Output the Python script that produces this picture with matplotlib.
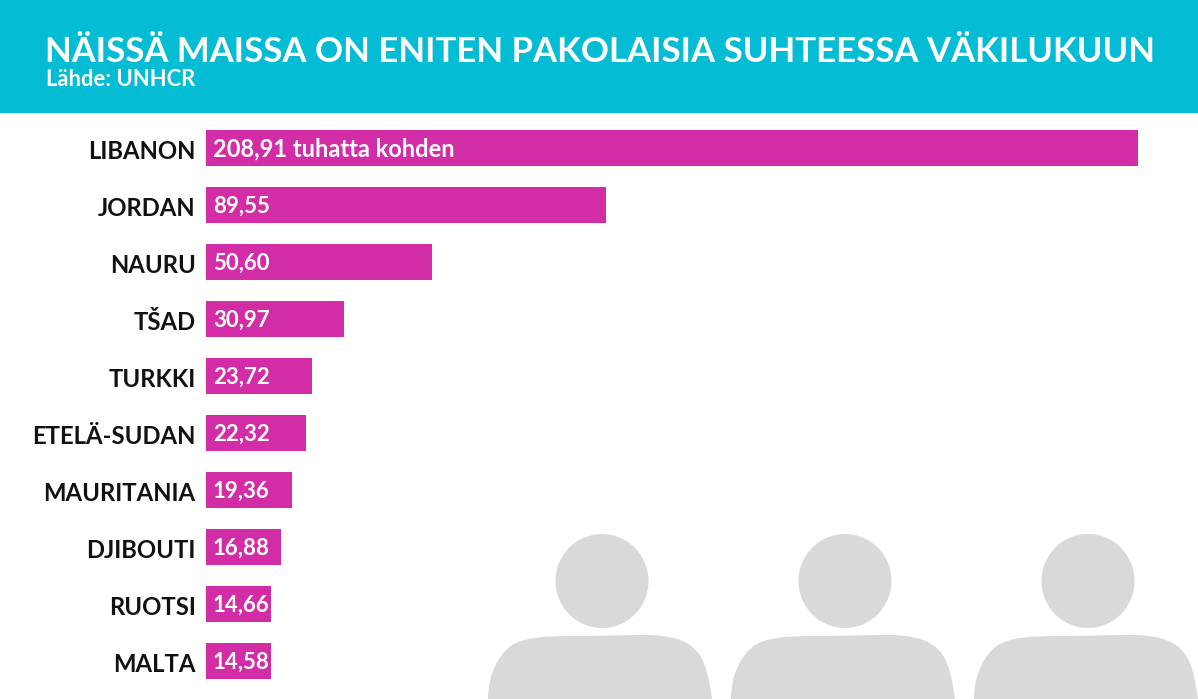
import matplotlib.pyplot as plt
from matplotlib.patches import Ellipse, PathPatch, Rectangle
from matplotlib.path import Path
from matplotlib.transforms import ScaledTranslation

W, H = 1198, 699

maat = ['LIBANON', 'JORDAN', 'NAURU', 'TŠAD', 'TURKKI', 'ETELÄ-SUDAN',
        'MAURITANIA', 'DJIBOUTI', 'RUOTSI', 'MALTA']
arvot = [208.91, 89.55, 50.60, 30.97, 23.72, 22.32, 19.36, 16.88, 14.66, 14.58]
otsikko = 'NÄISSÄ MAISSA ON ENITEN PAKOLAISIA SUHTEESSA VÄKILUKUUN'
lahde = 'Lähde: UNHCR'

TURKOOSI = '#04BCD3'
MAGENTA = '#D22CA6'
HARMAA = '#D9D9D9'

plt.rcParams['font.family'] = ['Lato', 'DejaVu Sans']

fig = plt.figure(figsize=(W / 100, H / 100), dpi=100, facecolor='white')

# taustakerros pikselikoordinaateissa
bg = fig.add_axes([0, 0, 1, 1])
bg.set_xlim(0, W)
bg.set_ylim(H, 0)
bg.axis('off')
bg.add_patch(Rectangle((0, 0), W, 113, color=TURKOOSI, lw=0))


def ihminen(x):
    bg.add_patch(Ellipse((x, 581), 93, 94, color=HARMAA, lw=0))
    runko = [
        (x - 114, 699), (x - 114, 675), (x - 104, 655), (x - 90, 645),
        (x - 78, 638), (x - 60, 636), (x - 30, 636),
        (x, 636), (x + 20, 635), (x + 47, 635),
        (x + 75, 636), (x + 88, 642), (x + 97, 654),
        (x + 105, 665), (x + 108, 685), (x + 110, 699),
        (x - 114, 699),
    ]
    koodit = [Path.MOVETO] + [Path.CURVE4] * 15 + [Path.CLOSEPOLY]
    bg.add_patch(PathPatch(Path(runko, koodit), color=HARMAA, lw=0))


for x in [602, 845, 1088]:
    ihminen(x)

bg.text(45, 62, otsikko, color='white', fontsize=25, fontweight='bold',
        va='baseline', ha='left')
bg.text(46, 86.5, lahde, color='white', fontsize=15.8, fontweight='bold',
        va='baseline', ha='left')

# palkit
ax = fig.add_axes([206 / W, 1 - 689.5 / H, 932 / W, 570 / H])
ax.patch.set_alpha(0)
y = list(range(len(maat)))
ax.barh(y, arvot, height=0.63, color=MAGENTA)
ax.set_xlim(0, 208.91)
ax.set_ylim(9.5, -0.5)
ax.set_yticks(y)
ax.set_yticklabels(maat, fontsize=17.2, fontweight='bold', color='#111111')
ax.tick_params(axis='y', length=0, pad=7.5)
ax.xaxis.set_visible(False)
for s in ax.spines.values():
    s.set_visible(False)

# nimet hieman alemmas
siirto = ScaledTranslation(0, -1 / 72, fig.dpi_scale_trans)
for lab in ax.get_yticklabels():
    lab.set_transform(lab.get_transform() + siirto)

for i, v in enumerate(arvot):
    teksti = f'{v:.2f}'.replace('.', ',')
    if i == 0:
        teksti += ' tuhatta kohden'
    ax.annotate(teksti, xy=(0, i), xytext=(5, -1), textcoords='offset points',
                color='white', fontsize=17 if i == 0 else 16, fontweight='bold',
                va='center', ha='left')

fig.savefig('out.png', dpi=100)
